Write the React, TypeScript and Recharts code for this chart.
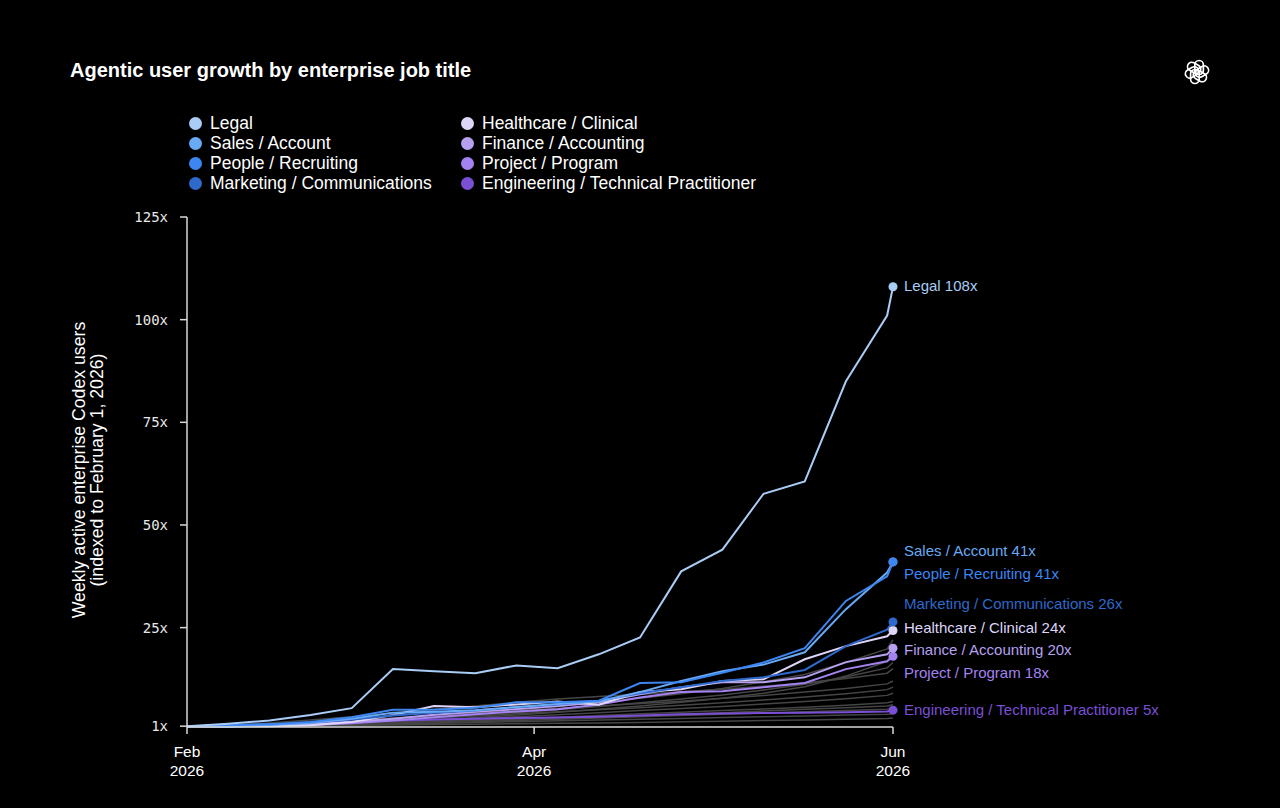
import React from "react";
import { LineChart, Line, XAxis, YAxis, Label } from "recharts";

// weekly points, day 0 = Feb 1 2026, last = Jun 1 2026
const days = [0, 7, 14, 21, 28, 35, 42, 49, 56, 63, 70, 77, 84, 91, 98, 105, 112, 119, 120];

const legal = [1, 1.6, 2.4, 3.7, 5.4, 14.9, 14.4, 13.9, 15.8, 15.1, 18.5, 22.6, 38.7, 44, 57.6, 60.6, 85, 101, 108];
const sales = [1, 0.8, 1.3, 1.8, 2.8, 4.3, 4.5, 4.9, 5.7, 6.4, 7, 9.3, 12, 14.4, 16, 19, 29.5, 38.4, 41];
const people = [1, 1.2, 1.5, 2, 3.2, 5, 5, 5.5, 6.8, 6.8, 7.2, 11.5, 11.7, 14, 16.5, 20, 31.5, 37.5, 41];
const marketing = [1, 1.1, 1.4, 1.9, 2.6, 3.6, 4.3, 4.8, 5.6, 6.3, 7.2, 9, 10.5, 12, 12.9, 14.7, 20.5, 24.5, 26.4];
const healthcare = [1, 1, 1, 1.2, 2, 3.7, 5.9, 5.6, 6.3, 7, 6.2, 9.3, 10, 12, 12.4, 17.3, 20.5, 22.9, 24.3];
const finance = [1, 1, 1.2, 1.5, 2, 2.8, 3.8, 4.5, 5.2, 5.9, 6.8, 8.8, 10.5, 11.7, 11.7, 12.9, 16.6, 18.5, 20];
const project = [1, 1, 1.1, 1.3, 1.7, 2.4, 3.2, 3.9, 4.6, 5.1, 6.3, 8, 9.3, 9.5, 10.5, 11.5, 14.9, 16.8, 18];
const engineering = [1, 1.1, 1.4, 1.7, 2.1, 2.4, 2.6, 2.8, 3, 3.1, 3.3, 3.6, 3.9, 4.1, 4.2, 4.3, 4.4, 4.6, 4.9];

// other job titles (unlabelled, grey)
const other1 = [1, 1.1, 1.3, 1.7, 2.2, 2.8, 3.5, 4.2, 5, 5.8, 6.8, 7.8, 8.9, 10.2, 11.8, 13.6, 16.5, 19.8, 22];
const other2 = [1, 1.3, 1.8, 2.5, 3.3, 4.2, 5.1, 5.9, 6.8, 7.6, 8.2, 8.8, 9.4, 10, 10.7, 11.5, 12.6, 13.9, 15];
const other3 = [1, 1.1, 1.2, 1.5, 1.9, 2.4, 3, 3.6, 4.3, 5, 5.8, 6.7, 7.6, 8.6, 9.8, 11.2, 13, 15.2, 16.5];
const other4 = [1, 1.2, 1.5, 1.9, 2.4, 3, 3.6, 4.2, 4.8, 5.3, 5.9, 6.5, 7.1, 7.8, 8.5, 9.3, 10.2, 11.3, 12];
const other5 = [1, 1.1, 1.3, 1.6, 2, 2.5, 3, 3.5, 4, 4.5, 5, 5.5, 6.1, 6.7, 7.4, 8.1, 8.9, 9.9, 10.5];
const other6 = [1, 1.1, 1.2, 1.4, 1.7, 2.1, 2.5, 2.9, 3.3, 3.8, 4.3, 4.8, 5.3, 5.8, 6.4, 7, 7.7, 8.5, 9];
const other7 = [1, 1.1, 1.2, 1.4, 1.6, 1.9, 2.2, 2.5, 2.8, 3.2, 3.6, 4, 4.4, 4.8, 5.2, 5.6, 6.1, 6.7, 7];
const other8 = [1, 1, 1.1, 1.3, 1.5, 1.8, 2.1, 2.4, 2.7, 3, 3.3, 3.6, 3.9, 4.3, 4.7, 5.1, 5.5, 5.9, 6.2];
const other9 = [1, 1, 1.1, 1.2, 1.4, 1.6, 1.8, 2.1, 2.4, 2.7, 3, 3.3, 3.6, 3.9, 4.2, 4.5, 4.8, 5.1, 5.3];
const other10 = [1, 1, 1.1, 1.2, 1.3, 1.5, 1.7, 1.9, 2.1, 2.3, 2.5, 2.7, 2.9, 3.1, 3.3, 3.5, 3.7, 3.9, 4];
const other11 = [1, 1, 1, 1.1, 1.2, 1.3, 1.4, 1.5, 1.6, 1.7, 1.8, 1.9, 2.1, 2.2, 2.4, 2.5, 2.7, 2.9, 3];
const other12 = [1, 1, 1.1, 1.3, 1.6, 2, 2.5, 3.1, 3.7, 4.4, 5.1, 5.9, 6.8, 7.8, 9, 10.6, 13.2, 16.8, 19];

const xTicks = [0, 59, 120];
const xTickMonths = ["Feb", "Apr", "Jun"];
const xTickYear = "2026";
const yTicks = [1, 25, 50, 75, 100, 125];

const others = [other1, other2, other3, other4, other5, other6, other7, other8, other9, other10, other11, other12];

// highlighted job titles (legend order)
const series = [
  { key: "legal", name: "Legal", values: legal, color: "#a9cdf6", dy: 0 },
  { key: "sales", name: "Sales / Account", values: sales, color: "#68aaf4", dy: -10 },
  { key: "people", name: "People / Recruiting", values: people, color: "#3d86f2", dy: 13 },
  { key: "marketing", name: "Marketing / Communications", values: marketing, color: "#2e69cc", dy: -17 },
  { key: "healthcare", name: "Healthcare / Clinical", values: healthcare, color: "#ded6f8", dy: -1 },
  { key: "finance", name: "Finance / Accounting", values: finance, color: "#b7a0f0", dy: 3 },
  { key: "project", name: "Project / Program", values: project, color: "#a483f0", dy: 18 },
  { key: "engineering", name: "Engineering / Technical Practitioner", values: engineering, color: "#7a4fd6", dy: 1 },
];

// drawing order: bottom to top
const drawOrder = ["engineering", "project", "finance", "healthcare", "marketing", "sales", "people", "legal"];

const rows = days.map((day, i) => {
  const row: Record<string, number> = { day };
  others.forEach((o, j) => (row[`other${j}`] = o[i]));
  series.forEach((s) => (row[s.key] = s.values[i]));
  return row;
});

const SANS = "'Liberation Sans', Arial, sans-serif";
const last = days.length - 1;

function OpenAILogo() {
  return (
    <svg width={30} height={30} viewBox="-15 -15 30 30" style={{ position: "absolute", left: 1182, top: 57 }}>
      {[0, 60, 120, 180, 240, 300].map((a) => (
        <rect
          key={a}
          x={-2.2}
          y={-11.5}
          width={8.6}
          height={14}
          rx={4.3}
          fill="none"
          stroke="#fff"
          strokeWidth={1.7}
          transform={`rotate(${a})`}
        />
      ))}
    </svg>
  );
}

function XTick(props: any) {
  const { x, y, payload } = props;
  const idx = xTicks.indexOf(payload.value);
  return (
    <g>
      <text x={x} y={y + 21} textAnchor="middle" fill="#fff" fontSize={15.5} fontFamily={SANS}>
        {xTickMonths[idx]}
      </text>
      <text x={x} y={y + 40} textAnchor="middle" fill="#fff" fontSize={15.5} fontFamily={SANS}>
        {xTickYear}
      </text>
    </g>
  );
}

function YTitle(props: any) {
  const { viewBox } = props;
  const cy = viewBox.y + viewBox.height / 2 - 2;
  const x1 = 80;
  const x2 = 98;
  return (
    <g fill="#fff" fontSize={17.7} fontFamily={SANS}>
      <text x={x1} y={cy} transform={`rotate(-90, ${x1}, ${cy})`} textAnchor="middle" dominantBaseline="middle">
        Weekly active enterprise Codex users
      </text>
      <text x={x2} y={cy} transform={`rotate(-90, ${x2}, ${cy})`} textAnchor="middle" dominantBaseline="middle">
        (indexed to February 1, 2026)
      </text>
    </g>
  );
}

export default function App() {
  return (
    <div
      style={{
        position: "absolute",
        left: 0,
        top: 0,
        width: 1280,
        height: 808,
        background: "#000",
        overflow: "hidden",
        fontFamily: SANS,
      }}
    >
      <div style={{ position: "absolute", left: 70, top: 59, color: "#fff", fontSize: 20, fontWeight: 700 }}>
        Agentic user growth by enterprise job title
      </div>
      <OpenAILogo />

      <div
        style={{
          position: "absolute",
          left: 189,
          top: 113,
          display: "grid",
          gridTemplateColumns: "272px auto",
          gridAutoFlow: "column",
          gridTemplateRows: "repeat(4, 20px)",
          color: "#fff",
          fontSize: 17.5,
        }}
      >
        {series.map((s) => (
          <div key={s.key} style={{ display: "flex", alignItems: "center", lineHeight: "20px" }}>
            <span
              style={{
                width: 13,
                height: 13,
                borderRadius: "50%",
                background: s.color,
                display: "inline-block",
                marginRight: 8,
              }}
            />
            {s.name}
          </div>
        ))}
      </div>

      <LineChart
        width={1280}
        height={808}
        data={rows}
        margin={{ top: 217, right: 387, bottom: 21, left: 127 }}
        style={{ position: "absolute", left: 0, top: 0 }}
      >
        <XAxis
          dataKey="day"
          type="number"
          domain={[0, 120]}
          ticks={xTicks}
          tick={<XTick />}
          tickSize={7}
          height={60}
          stroke="#d8d8d8"
          strokeWidth={1.5}
          interval={0}
        />
        <YAxis
          type="number"
          domain={[1, 125]}
          ticks={yTicks}
          width={60}
          tickSize={7}
          tickMargin={12}
          stroke="#d8d8d8"
          strokeWidth={1.5}
          interval={0}
          tickFormatter={(v: number) => `${v}x`}
          tick={{ fill: "#e8e8e8", fontSize: 14, fontFamily: "'DejaVu Sans Mono', monospace" }}
        >
          <Label content={<YTitle />} />
        </YAxis>

        {others.map((_, j) => (
          <Line
            key={`other${j}`}
            dataKey={`other${j}`}
            stroke="#454545"
            strokeWidth={1.5}
            dot={false}
            activeDot={false}
            isAnimationActive={false}
          />
        ))}

        {drawOrder.map((k) => {
          const s = series.find((x) => x.key === k)!;
          return (
            <Line
              key={s.key}
              dataKey={s.key}
              stroke={s.color}
              strokeWidth={2}
              isAnimationActive={false}
              activeDot={false}
              dot={(p: any) =>
                p.index === last ? (
                  <circle key={`d-${s.key}`} cx={p.cx} cy={p.cy} r={4.5} fill={s.color} />
                ) : (
                  <g key={`d-${s.key}-${p.index}`} />
                )
              }
              label={(p: any) =>
                p.index === last ? (
                  <text
                    key={`l-${s.key}`}
                    x={p.x + 11}
                    y={p.y + s.dy}
                    fill={s.color}
                    fontSize={15}
                    fontFamily={SANS}
                    dominantBaseline="middle"
                  >
                    {`${s.name} ${Math.round(s.values[last])}x`}
                  </text>
                ) : (
                  <g key={`l-${s.key}-${p.index}`} />
                )
              }
            />
          );
        })}
      </LineChart>
    </div>
  );
}
